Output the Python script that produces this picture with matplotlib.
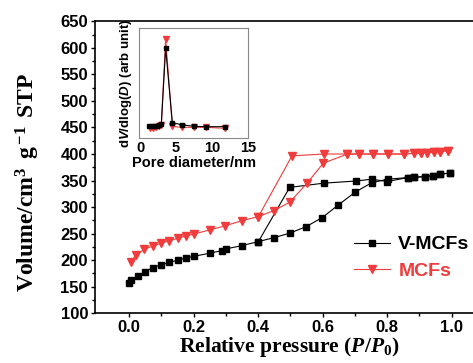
import numpy as np
import matplotlib.pyplot as plt

# V-MCFs isotherm (adsorption then desorption)
v_ads_p = [0.0, 0.007, 0.026, 0.048, 0.073, 0.099, 0.125, 0.151, 0.177, 0.201,
           0.25, 0.287, 0.30, 0.349, 0.401, 0.448, 0.498, 0.549, 0.599, 0.649,
           0.701, 0.753, 0.802, 0.864, 0.885, 0.917, 0.943, 0.963, 0.995]
v_ads_v = [156, 162, 170, 177.5, 185.7, 190.8, 195.8, 199.6, 204, 207,
           212.8, 217.7, 221, 227, 234.8, 242, 250.6, 263, 280, 304,
           328, 346, 352.5, 355.5, 356, 357.5, 359, 362, 364]
v_des_p = [0.995, 0.963, 0.943, 0.917, 0.885, 0.864, 0.80, 0.753, 0.703, 0.604, 0.498, 0.401]
v_des_v = [364, 362, 359, 357.5, 356, 355.5, 348, 352.5, 349, 345, 337, 234.8]

# MCFs isotherm
m_ads_p = [0.005, 0.021, 0.047, 0.073, 0.099, 0.125, 0.151, 0.177, 0.201, 0.25,
           0.297, 0.349, 0.401, 0.448, 0.498, 0.552, 0.602, 0.677, 0.713, 0.755,
           0.804, 0.854, 0.885, 0.905, 0.925, 0.945, 0.965, 0.99]
m_ads_v = [197, 209.6, 220, 226.6, 231.7, 236.7, 241, 245.5, 249, 256.8,
           264.4, 274, 282, 293, 309, 345, 382.6, 400, 400, 400,
           400, 400, 401.5, 402, 402.5, 403.5, 404.5, 406.5]
m_des_p = [0.99, 0.965, 0.945, 0.925, 0.905, 0.885, 0.854, 0.804, 0.755, 0.713, 0.677, 0.604, 0.505, 0.401]
m_des_v = [406.5, 404.5, 403.5, 402.5, 402, 401.5, 400, 400, 400, 400, 400, 400, 396.5, 282]

# pore size distribution (arbitrary units)
psd_d_v = [1.3, 1.6, 1.9, 2.3, 2.6, 2.95, 3.55, 4.48, 5.8, 7.5, 9.2, 11.8]
psd_y_v = [0.11, 0.11, 0.11, 0.11, 0.115, 0.125, 0.818, 0.14, 0.12, 0.106, 0.103, 0.103]
psd_d_m = [1.4, 1.8, 2.2, 2.6, 2.95, 3.55, 4.48, 5.8, 7.5, 9.2, 11.8]
psd_y_m = [0.09, 0.095, 0.1, 0.105, 0.12, 0.9, 0.106, 0.097, 0.097, 0.097, 0.088]

red = '#f03c3c'
serif = ['Liberation Serif', 'DejaVu Serif']
sans = ['Liberation Sans', 'DejaVu Sans']

plt.rcParams['mathtext.fontset'] = 'custom'
plt.rcParams['mathtext.rm'] = 'Liberation Serif:bold'
plt.rcParams['mathtext.bf'] = 'Liberation Serif:bold'
plt.rcParams['mathtext.it'] = 'Liberation Serif:italic:bold'
plt.rcParams['mathtext.sf'] = 'Liberation Sans:italic:bold'

fig = plt.figure(figsize=(4.73, 3.63), dpi=100)
ax = fig.add_axes([0.2008, 0.1377, 0.822, 0.8031])

ax.plot(v_ads_p, v_ads_v, '-', color='black', lw=0.8, marker='s', ms=5)
ax.plot(v_des_p, v_des_v, '-', color='black', lw=0.8, marker='s', ms=5)
ax.plot(m_ads_p, m_ads_v, '-', color=red, lw=0.8, marker='v', ms=6)
ax.plot(m_des_p, m_des_v, '-', color=red, lw=0.8, marker='v', ms=6)

ax.set_xlim(-0.106, 1.1)
ax.set_ylim(100, 650)
ax.set_xticks(np.arange(0, 1.01, 0.2))
ax.set_xticks(np.arange(0.1, 1.01, 0.2), minor=True)
ax.set_yticks(np.arange(100, 651, 50))
ax.set_yticks(np.arange(125, 650, 50), minor=True)
ax.tick_params(direction='out', length=3, width=1, labelsize=12, pad=2)
ax.tick_params(which='minor', direction='out', length=2, width=1)
for lab in ax.get_xticklabels() + ax.get_yticklabels():
    lab.set_fontfamily(sans)
    lab.set_fontweight('bold')
for s in ax.spines.values():
    s.set_linewidth(1.2)

ax.set_xlabel('Relative pressure ($P/P_\\mathrm{0}$)', family=serif,
              fontsize=15.5, fontweight='bold', labelpad=0)
ax.set_ylabel('Volume/cm$^{\\mathrm{3}}\\,$ g$^{\\,\\mathrm{-1}}\\,$ STP', family=serif,
              fontsize=17, fontweight='bold')
ax.yaxis.set_label_coords(-0.135, 0.45)

# legend
h1, = ax.plot([], [], '-', color='black', lw=0.8, marker='s', ms=5)
h2, = ax.plot([], [], '-', color=red, lw=0.8, marker='v', ms=6)
leg = ax.legend([h1, h2], ['V-MCFs', 'MCFs'], loc='upper left',
                bbox_to_anchor=(0.62, 0.325), frameon=False, handlelength=1.9,
                handletextpad=0.4, labelspacing=0.45,
                prop={'family': sans, 'weight': 'bold', 'size': 14})
leg.get_texts()[0].set_color('black')
leg.get_texts()[1].set_color(red)

# inset
ins = fig.add_axes([0.2945, 0.6198, 0.2304, 0.303])
ins.plot(psd_d_v, psd_y_v, '-', color='black', lw=0.8, marker='s', ms=3.5, zorder=3)
ins.plot(psd_d_m, psd_y_m, '-', color=red, lw=0.8, marker='v', ms=4)
ins.set_xlim(-0.1, 15)
ins.set_ylim(0, 1)
ins.set_xticks([0, 5, 10, 15])
ins.set_yticks([])
ins.tick_params(length=0, labelsize=10.5, pad=2)
for lab in ins.get_xticklabels():
    lab.set_fontfamily(sans)
    lab.set_fontweight('bold')
for s in ins.spines.values():
    s.set_color('#888888')
    s.set_linewidth(0.8)
ins.set_xlabel('Pore diameter/nm', family=sans, fontsize=10.5, fontweight='bold', labelpad=1)
ins.set_ylabel('d$\\mathsf{V}$/dlog($\\mathsf{D}$) (arb unit)', family=sans, fontsize=9.5,
               fontweight='bold', labelpad=4)

fig.savefig('out.png', dpi=100)
